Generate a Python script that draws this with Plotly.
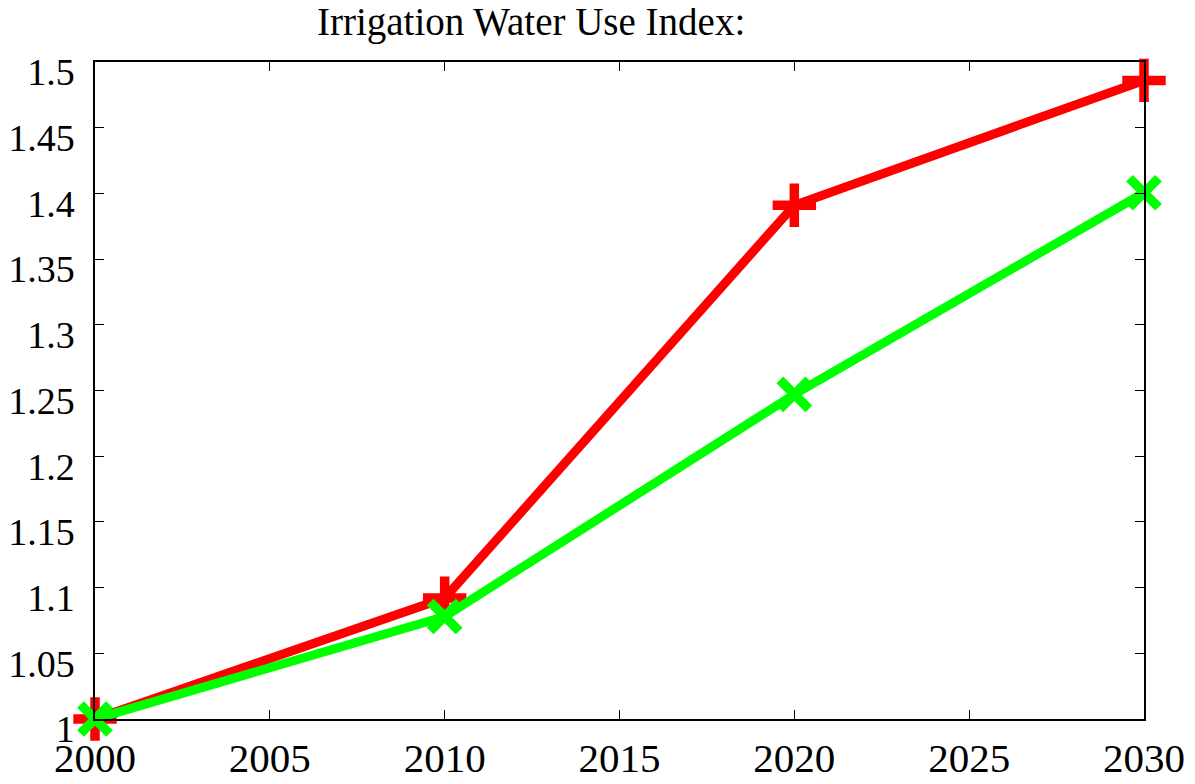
import plotly.graph_objects as go

years = [2000, 2010, 2020, 2030]
red_index = [1.0, 1.092, 1.391, 1.486]
green_index = [1.0, 1.078, 1.247, 1.4005]

y_ticks = [1.0, 1.05, 1.1, 1.15, 1.2, 1.25, 1.3, 1.35, 1.4, 1.45, 1.5]
y_labels = ["1", "1.05", "1.1", "1.15", "1.2", "1.25", "1.3", "1.35", "1.4", "1.45", "1.5"]
x_ticks = [2000, 2005, 2010, 2015, 2020, 2025, 2030]

font_serif = "Liberation Serif, Times New Roman, serif"

# page has an 8px body margin, so the figure is a bit smaller than the window
W, H = 1187, 776
OFF = 8

fig = go.Figure()
fig.add_trace(go.Scatter(x=years, y=red_index, mode="lines+markers",
                         line=dict(color="#ff0000", width=9),
                         marker=dict(symbol="cross-thin", size=31, color="#ff0000",
                                     line=dict(color="#ff0000", width=9.5)),
                         cliponaxis=False, showlegend=False))
fig.add_trace(go.Scatter(x=years, y=green_index, mode="lines+markers",
                         line=dict(color="#00ff00", width=9),
                         marker=dict(symbol="x-thin", size=29, color="#00ff00",
                                     line=dict(color="#00ff00", width=9.5)),
                         cliponaxis=False, showlegend=False))

axis_style = dict(showline=True, linecolor="black", linewidth=1.5, mirror="ticks",
                  ticks="inside", ticklen=9, tickcolor="black", tickwidth=1.2,
                  showgrid=False, zeroline=False, automargin=False)

fig.update_xaxes(range=[2000, 2030], tickvals=x_ticks, ticklabelstandoff=2,
                 tickfont=dict(family=font_serif, size=41, color="black"), **axis_style)
fig.update_yaxes(range=[1, 1.5], tickvals=y_ticks, ticktext=y_labels,
                 ticklabelstandoff=11, ticklabelshift=10,
                 tickfont=dict(family=font_serif, size=38, color="black"), **axis_style)

fig.update_layout(
    width=W, height=H,
    plot_bgcolor="white", paper_bgcolor="white",
    margin=dict(l=95 - OFF, r=51, t=62 - OFF, b=65),
    title=dict(text="Irrigation Water Use Index:", x=(317 - OFF) / W, xanchor="left",
               xref="container", y=1 - (21 - OFF) / H, yanchor="middle",
               font=dict(family=font_serif, size=39, color="black")),
)
# faint stroke after the title
fig.add_shape(type="line", xref="paper", yref="paper",
              x0=(767 - 95) / 1049, x1=(787 - 95) / 1049,
              y0=1 + (62 - 6) / 657, y1=1 + (62 - 6) / 657,
              line=dict(color="#999999", width=1.5))

fig.write_html("out.html")
